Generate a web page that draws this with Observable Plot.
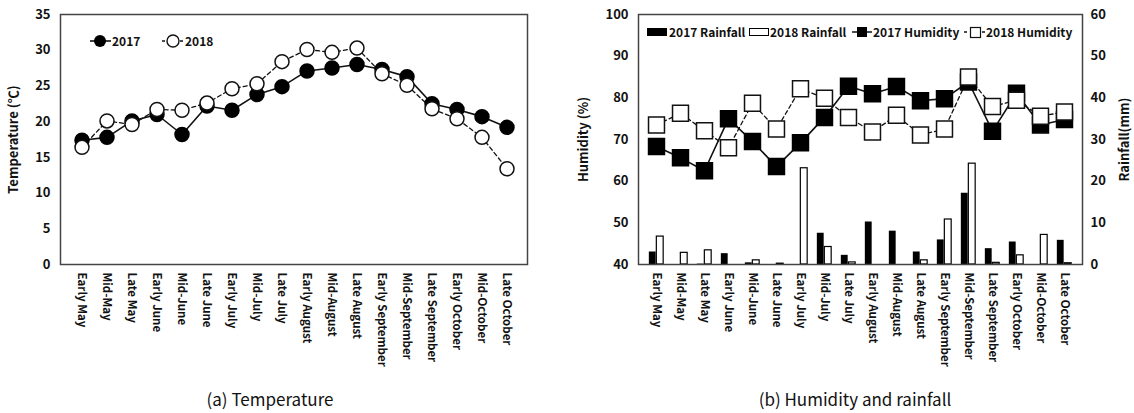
<!DOCTYPE html>
<html>
<head>
<meta charset="utf-8">
<script src="https://cdn.jsdelivr.net/npm/d3@7"></script>
<script src="https://cdn.jsdelivr.net/npm/@observablehq/plot@0.6"></script>
<style>
  html, body { margin: 0; padding: 0; background: #fff; }
  #wrap { position: relative; width: 1134px; height: 413px; overflow: hidden; font-family: "Noto Sans CJK KR", "Noto Sans", sans-serif; }
  .panel { position: absolute; top: 0; }
  .caption { position: absolute; font-family: "Noto Sans CJK KR", "Noto Sans", sans-serif; font-size: 17px; color: #111; transform: translateX(-50%); white-space: nowrap; }
  .legend { position: absolute; left: 0; top: 0; pointer-events: none; }
</style>
</head>
<body>
<div id="wrap"></div>
<script>
const periods = ["Early May","Mid-May","Late May","Early June","Mid-June","Late June","Early July","Mid-July","Late July","Early August","Mid-August","Late August","Early September","Mid-September","Late September","Early October","Mid-October","Late October"];

const temp2017 = [17.4,17.8,20.1,21.0,18.2,22.2,21.6,23.8,24.9,27.1,27.5,28.0,27.3,26.3,22.5,21.7,20.7,19.2];
const temp2018 = [16.4,20.1,19.6,21.7,21.6,22.6,24.6,25.3,28.4,30.1,29.7,30.3,26.7,25.1,21.8,20.4,17.8,13.4];

const hum2017 = [68.3,65.6,62.5,75.0,69.5,63.5,69.2,75.3,82.8,81.0,82.7,79.3,79.8,83.8,72.0,81.1,73.5,74.8];
const hum2018 = [73.5,76.3,72.1,68.0,78.7,72.5,82.2,79.9,75.3,71.8,75.8,71.1,72.5,85.0,77.9,79.4,75.6,76.6];

const rain2017 = [3.0,0,0.1,2.6,0.4,0,0,7.5,2.2,10.2,8.0,3.0,5.9,17.1,3.8,5.4,0,5.8];
const rain2018 = [6.7,2.8,3.4,0,1.0,0.2,23.1,4.2,0.5,0,0,1.0,10.8,24.2,0.4,2.2,7.1,0.3];

const tempTicks = [0,5,10,15,20,25,30,35];
const humTicks = [40,50,60,70,80,90,100];
const rainTicks = [0,10,20,30,40,50,60];
const humMin = 40;

const tempRows = periods.map((p, i) => ({p, t17: temp2017[i], t18: temp2018[i]}));
const humRows = periods.map((p, i) => ({p, h17: hum2017[i], h18: hum2018[i], r17: rain2017[i], r18: rain2018[i]}));

const wrap = document.getElementById("wrap");
const FONT = '"Noto Sans CJK KR", "Noto Sans", sans-serif';

// Left panel: temperature
const left = Plot.plot({
  width: 560, height: 380,
  marginLeft: 60, marginRight: 33, marginTop: 14, marginBottom: 116,
  style: {fontFamily: FONT, fontSize: "13px", fontWeight: "bold", color: "#111", background: "transparent"},
  x: {type: "band", domain: periods, padding: 0},
  y: {domain: [0, 35]},
  marks: [
    Plot.frame({stroke: "#444", strokeWidth: 1.5}),
    Plot.axisY({ticks: tempTicks, tickSize: 0, tickPadding: 10, fontSize: 13, fontWeight: "bold",
      label: "Temperature (℃)", labelAnchor: "center", labelArrow: "none", labelOffset: 52}),
    Plot.axisX({tickSize: 0, tickPadding: 8, tickRotate: 90, fontSize: 11.5, fontWeight: "bold", label: null}),
    Plot.line(tempRows, {x: "p", y: "t18", stroke: "#111", strokeWidth: 1.3, strokeDasharray: "4,3"}),
    Plot.line(tempRows, {x: "p", y: "t17", stroke: "#111", strokeWidth: 1.6}),
    Plot.dot(tempRows, {x: "p", y: "t17", r: 7, fill: "#000", stroke: "#000"}),
    Plot.dot(tempRows, {x: "p", y: "t18", r: 7, fill: "#fff", stroke: "#111", strokeWidth: 1.5})
  ]
});
left.classList.add("panel");
left.style.left = "0px";
wrap.appendChild(left);

// Right panel: humidity and rainfall (rainfall shares the same pixel scale, offset by 40)
const bw = (1082 - 638) / periods.length;
const barW = 7.5;
const right = Plot.plot({
  width: 564, height: 380,
  marginLeft: 68, marginRight: 52, marginTop: 14, marginBottom: 116,
  style: {fontFamily: FONT, fontSize: "13px", fontWeight: "bold", color: "#111", background: "transparent"},
  x: {type: "band", domain: periods, padding: 0},
  y: {domain: [40, 100]},
  marks: [
    Plot.barY(humRows, {x: "p", y1: humMin, y2: d => humMin + d.r17, fill: "#000",
      insetLeft: bw / 2 - barW, insetRight: bw / 2}),
    Plot.barY(humRows, {x: "p", y1: humMin, y2: d => humMin + d.r18, fill: "#fff", stroke: "#000", strokeWidth: 1.2,
      insetLeft: bw / 2, insetRight: bw / 2 - barW}),
    Plot.frame({stroke: "#444", strokeWidth: 1.5}),
    Plot.axisY({ticks: humTicks, tickSize: 0, tickPadding: 10, fontSize: 13, fontWeight: "bold",
      label: "Humidity (%)", labelAnchor: "center", labelArrow: "none", labelOffset: 60}),
    Plot.axisY({anchor: "right", ticks: rainTicks.map(v => v + humMin), tickFormat: d => d - humMin,
      tickSize: 0, tickPadding: 8, fontSize: 13, fontWeight: "bold",
      label: "Rainfall(mm)", labelAnchor: "center", labelArrow: "none", labelOffset: 46}),
    Plot.axisX({tickSize: 0, tickPadding: 8, tickRotate: 90, fontSize: 11.5, fontWeight: "bold", label: null}),
    Plot.line(humRows, {x: "p", y: "h18", stroke: "#111", strokeWidth: 1.3, strokeDasharray: "4,3"}),
    Plot.line(humRows, {x: "p", y: "h17", stroke: "#111", strokeWidth: 1.6}),
    Plot.dot(humRows, {x: "p", y: "h17", r: 9, symbol: "square", fill: "#000", stroke: "#000"}),
    Plot.dot(humRows, {x: "p", y: "h18", r: 9, symbol: "square", fill: "#fff", stroke: "#111", strokeWidth: 1.5})
  ]
});
right.classList.add("panel");
right.style.left = "570px";
wrap.appendChild(right);

// Legends (overlay)
const NS = "http://www.w3.org/2000/svg";
const leg = document.createElementNS(NS, "svg");
leg.setAttribute("class", "legend");
leg.setAttribute("width", 1134);
leg.setAttribute("height", 413);
leg.style.position = "absolute";
function el(tag, attrs, text) {
  const e = document.createElementNS(NS, tag);
  for (const k in attrs) e.setAttribute(k, attrs[k]);
  if (text != null) e.textContent = text;
  leg.appendChild(e);
  return e;
}
const tstyle = {"font-family": FONT, "font-size": 12, "font-weight": "bold", fill: "#111"};
// left legend
el("line", {x1: 90, x2: 111, y1: 41, y2: 41, stroke: "#111", "stroke-width": 1.6});
el("circle", {cx: 100, cy: 41, r: 6, fill: "#000"});
el("text", Object.assign({x: 112, y: 45.5}, tstyle), "2017");
el("line", {x1: 162, x2: 183, y1: 41, y2: 41, stroke: "#111", "stroke-width": 1.3, "stroke-dasharray": "3,3"});
el("circle", {cx: 173, cy: 41, r: 6, fill: "#fff", stroke: "#111", "stroke-width": 1.4});
el("text", Object.assign({x: 185, y: 45.5}, tstyle), "2018");
// right legend
el("rect", {x: 647, y: 28, width: 20, height: 8, fill: "#000"});
el("text", Object.assign({x: 669, y: 36.5}, tstyle), "2017 Rainfall");
el("rect", {x: 749.5, y: 28.5, width: 19, height: 7, fill: "#fff", stroke: "#000", "stroke-width": 1});
el("text", Object.assign({x: 770, y: 36.5}, tstyle), "2018 Rainfall");
el("line", {x1: 852, x2: 872, y1: 32, y2: 32, stroke: "#111", "stroke-width": 1.5});
el("rect", {x: 857, y: 27, width: 10, height: 10, fill: "#000"});
el("text", Object.assign({x: 873, y: 36.5}, tstyle), "2017 Humidity");
el("line", {x1: 964, x2: 985, y1: 32, y2: 32, stroke: "#111", "stroke-width": 1.3, "stroke-dasharray": "3,3"});
el("rect", {x: 970.5, y: 27.5, width: 10, height: 10, fill: "#fff", stroke: "#111", "stroke-width": 1.2});
el("text", Object.assign({x: 986, y: 36.5}, tstyle), "2018 Humidity");
wrap.appendChild(leg);

// Captions
const c1 = document.createElement("div");
c1.className = "caption"; c1.textContent = "(a) Temperature";
c1.style.left = "270px"; c1.style.top = "386px";
wrap.appendChild(c1);
const c2 = document.createElement("div");
c2.className = "caption"; c2.textContent = "(b) Humidity and rainfall";
c2.style.left = "855px"; c2.style.top = "386px";
wrap.appendChild(c2);
</script>
</body>
</html>
